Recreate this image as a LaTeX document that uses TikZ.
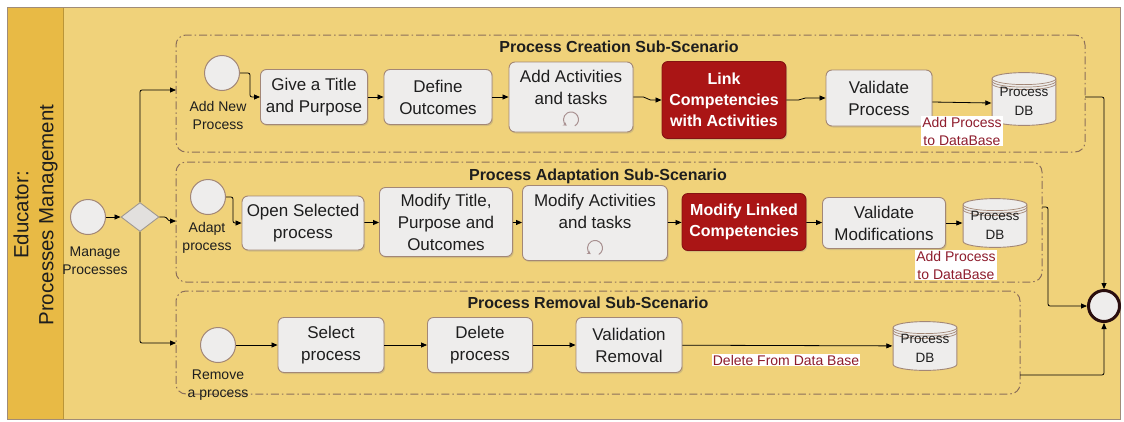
\documentclass[tikz,border=0pt]{standalone}
\usepackage{fontspec}
\setmainfont{Liberation Sans}
\usetikzlibrary{arrows.meta,shapes.geometric,calc,shadows}
\definecolor{bgmain}{HTML}{F0D27A}
\definecolor{stripe}{HTML}{E8BA45}
\definecolor{outerline}{HTML}{A08C78}
\definecolor{boxfill}{HTML}{EEEDEC}
\definecolor{boxline}{HTML}{A38776}
\definecolor{redfill}{HTML}{AA1515}
\definecolor{redline}{HTML}{851212}
\definecolor{framecol}{HTML}{8C6F5A}
\definecolor{lblred}{HTML}{8E1C2C}
\definecolor{txt}{HTML}{1E1E1E}
\definecolor{loopcol}{HTML}{A89090}
\definecolor{gwfill}{HTML}{E2E0DE}
\definecolor{gwline}{HTML}{A09890}
\definecolor{endline}{HTML}{2A0E0E}
\newcommand\dbtext{\raisebox{-4pt}[\height][\depth]{\begin{tabular}{@{}c@{}}Process\\[3pt]DB\end{tabular}}}
\begin{document}
\begin{tikzpicture}[x=1pt,y=-1pt,
 every node/.style={text=txt},
 sz/.style 2 args={minimum width=#1pt,minimum height=#2pt},
 task/.style={draw=boxline,fill=boxfill,line width=0.9pt,rounded corners=6pt,align=center,inner sep=0pt,
   font=\fontsize{17}{22}\selectfont,
   drop shadow={opacity=0.25,shadow xshift=1.2pt,shadow yshift=-1.5pt}},
 redtask/.style={task,draw=redline,fill=redfill,text=white,font=\bfseries\fontsize{16}{21}\selectfont},
 event/.style={circle,draw=boxline,fill=boxfill,line width=1pt,minimum size=35pt,inner sep=0pt},
 endevent/.style={circle,draw=endline,fill=boxfill,line width=3pt,minimum size=31pt,inner sep=0pt},
 gate/.style={diamond,aspect=1.3,draw=gwline,fill=gwfill,line width=0.9pt,minimum width=38pt,minimum height=29pt,inner sep=0pt},
 frame/.style={draw=framecol,line width=1pt,rounded corners=10pt,dash pattern=on 8pt off 3pt on 1.5pt off 3pt,inner sep=0pt},
 ttl/.style={font=\bfseries\fontsize{16}{20}\selectfont,inner sep=0pt},
 lbl/.style={font=\fontsize{14}{18}\selectfont,align=center,inner sep=0pt},
 dblbl/.style={font=\fontsize{14}{18}\selectfont,align=center,text=lblred,fill=white,inner sep=1pt},
 flow/.style={draw=black,line width=0.8pt,-{Triangle[length=6pt,width=5pt]}},
 loopmark/.style={draw=loopcol,line width=1pt,-{Stealth[length=3.5pt,width=4pt]}},
 db/.style={minimum width=65pt,minimum height=#1pt,inner sep=0pt,align=center,font=\fontsize{13.5}{16}\selectfont,
   path picture={
    \draw[draw=boxline,fill=boxfill,line width=0.9pt]
     ([shift={(0.6pt,-6.6pt)}]path picture bounding box.north west) -- ([shift={(0.6pt,6.6pt)}]path picture bounding box.south west)
     arc[start angle=180,end angle=360,x radius=31.9pt,y radius=6pt]
     -- ([shift={(-0.6pt,-6.6pt)}]path picture bounding box.north east)
     arc[start angle=0,end angle=180,x radius=31.9pt,y radius=6pt] -- cycle;
    \foreach \d in {6.6pt,9.1pt,11.6pt}
     \draw[draw=boxline,line width=0.7pt] ([shift={(0.6pt,-\d)}]path picture bounding box.north west)
       arc[start angle=180,end angle=360,x radius=31.9pt,y radius=6pt];
   }},
]
\useasboundingbox (0,0) rectangle (1124,421);
\fill[white] (0,0) rectangle (1124,421);
% pool / lane
\fill[bgmain] (7,7) rectangle (1120,419);
\fill[stripe] (7,7) rectangle (63,419);
\draw[stripe!80!black,line width=0.6pt] (63,7) -- (63,419);
\draw[outerline,line width=1pt] (7,7) rectangle (1120,419);
\node[rotate=90,align=center,font=\fontsize{20.5}{25}\selectfont,inner sep=0pt] (lane) at (35.5,215) {Educator:\\Processes Management};

% sub-scenario frames
\node[frame,sz={909}{117}] (f1) at (630.5,93.5) {};
\node[frame,sz={866}{120}] (f2) at (609,222) {};
\node[frame,sz={844}{103}] (f3) at (598,342.5) {};
\node[ttl] (t1) at (619,47) {Process Creation Sub-Scenario};
\node[ttl] (t2) at (598,176) {Process Adaptation Sub-Scenario};
\node[ttl] (t3) at (588,303) {Process Removal Sub-Scenario};

% start and gateway
\node[event] (ms) at (88,217) {};
\node[lbl] (msl) at (95,261) {Manage\\Processes};
\node[gate] (gw) at (140,217) {};
\coordinate (f1in) at (176,90);
\coordinate (f2in) at (176,221);
\coordinate (f3in) at (176,343);

% creation
\node[event] (s1) at (222,73) {};
\node[lbl] (s1l) at (218,115) {Add New\\Process};
\node[task,sz={107}{55}] (c1) at (314,97) {Give a Title\\and Purpose};
\node[task,sz={108}{55}] (c2) at (438,97) {Define\\Outcomes};
\node[task,sz={124}{70}] (c3) at (571,97) {Add Activities\\and tasks\\[-2pt]~};
\node[redtask,sz={124}{77}] (c4) at (724,100) {Link\\Competencies\\with Activities};
\node[task,sz={106}{56}] (c5) at (879,98) {Validate\\Process};
\node[db=54] (db1) at (1024,99) {\dbtext};
\node[dblbl] (l1) at (962,131) {Add Process\\to DataBase};

% adaptation
\node[event] (s2) at (208,197) {};
\node[lbl] (s2l) at (207,238) {Adapt\\process};
\node[task,sz={122}{54}] (a1) at (303,223) {Open Selected\\process};
\node[task,sz={133}{69}] (a2) at (446,222) {Modify Title,\\Purpose and\\Outcomes};
\node[task,sz={145}{75}] (a3) at (595,223) {Modify Activities\\and tasks\\[2pt]~};
\node[redtask,sz={124}{57}] (a4) at (744,222) {Modify Linked\\Competencies};
\node[task,sz={123}{51}] (a5) at (884,223) {Validate\\Modifications};
\node[db=50] (db2) at (995,223) {\dbtext};
\node[dblbl] (l2) at (956,265) {Add Process\\to DataBase};

% removal
\node[event] (s3) at (218,345) {};
\node[lbl] (s3l) at (218,385) {Remove\\a process};
\node[task,sz={106}{55}] (r1) at (331,345) {Select\\process};
\node[task,sz={105}{55}] (r2) at (480,345) {Delete\\process};
\node[task,sz={106}{55}] (r3) at (629,345) {Validation\\Removal};
\node[db=50] (db3) at (925,346) {\dbtext};
\node[dblbl] (l3) at (786,360) {Delete From Data Base};

% end event
\node[endevent] (end) at (1104,306) {};
\coordinate (x1) at (1085,97);
\coordinate (x2) at (1042,207);
\coordinate (x3) at (1020,375);

% loop markers
\draw[loopmark] ([shift={(3.75pt,6.5pt)}]c3.south) arc[start angle=-60,end angle=235,radius=7.5pt];
\draw[loopmark] ([shift={(3.75pt,6.5pt)}]a3.south) arc[start angle=-60,end angle=235,radius=7.5pt];

% flows
\draw[flow] (ms) -- (gw);
\draw[flow,rounded corners=2pt] (gw.north) |- (f1in);
\draw[flow] (gw.east) -- ++(5,0) to[out=0,in=180] ++(6,4) -- (f2in);
\draw[flow,rounded corners=2pt] (gw.south) |- (f3in);

\draw[flow,rounded corners=2pt] (s1.east) -- ++(10,0) |- (c1.west);
\draw[flow] (c1) -- (c2);
\draw[flow] (c2) -- (c3);
\draw[flow] (c3.east) -- ++(10,0) to[out=0,in=180] ++(7,3) -- (c4.west);
\draw[flow] (c4.east) -- ++(12,0) to[out=0,in=180] ++(7,-2) -- (c5.west);
\draw[flow] ([yshift=-4pt]c5.east) -- ([yshift=-4pt]db1.west);
\draw[flow,rounded corners=2pt] (x1) -| (end.north);

\draw[flow,rounded corners=2pt] (s2.east) -- ++(7,0) |- (a1.west);
\draw[flow] (a1) -- (a2);
\draw[flow] (a2) -- (a3);
\draw[flow] (a3) -- (a4);
\draw[flow] (a4) -- (a5);
\draw[flow] (a5) -- (db2);
\draw[flow,rounded corners=2pt] (x2) -- ++(6,0) |- (end.west);

\draw[flow] (s3) -- (r1);
\draw[flow] (r1) -- (r2);
\draw[flow] (r2) -- (r3);
\draw[flow] (r3) -- (db3);
\draw[flow,rounded corners=2pt] (x3) -| (end.south);
\end{tikzpicture}
\end{document}
